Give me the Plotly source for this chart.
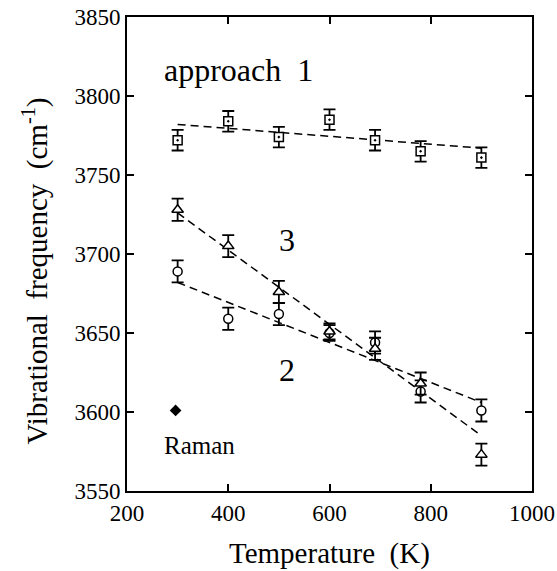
import plotly.graph_objects as go

# temperatures (K)
temps = [300, 400, 500, 600, 690, 780, 900]

# approach 1 (squares)
freq_1 = [3772, 3784, 3774, 3785, 3772, 3765, 3761]
err_1 = [6.5, 6.5, 6.5, 6.5, 6.5, 6.5, 6.5]

# approach 2 (circles)
freq_2 = [3689, 3659, 3662, 3650, 3644, 3613, 3601]
err_2 = [7, 7, 7, 5, 7, 7, 7]

# approach 3 (triangles)
freq_3 = [3728, 3705, 3676, 3651, 3640, 3618, 3573]
err_3 = [7, 7, 7, 5, 7, 7, 7]

# fitted dashed lines (end points)
fit_t = [300, 900]
fit_1 = [3782, 3767]
fit_2 = [3682, 3606]
fit_3 = [3726, 3585]

# Raman value
raman_t = [296]
raman_f = [3601]

x_ticks = [200, 400, 600, 800, 1000]
y_ticks = [3550, 3600, 3650, 3700, 3750, 3800, 3850]

FONT = "Liberation Serif, Times New Roman, serif"

fig = go.Figure()

for fy in (fit_1, fit_2, fit_3):
	fig.add_trace(go.Scatter(
		x=fit_t, y=fy,
		mode='lines',
		line=dict(color='black', width=1.5, dash='8px,5px'),
		showlegend=False))

def add_points(y, err, symbol, size):
	fig.add_trace(go.Scatter(
		x=temps, y=y,
		mode='markers',
		marker=dict(symbol=symbol, size=size, color='white',
			line=dict(color='black', width=1.5)),
		error_y=dict(type='data', array=err, visible=True,
			color='black', thickness=1.8, width=6),
		showlegend=False))

add_points(freq_1, err_1, 'square-dot', 9)
add_points(freq_2, err_2, 'circle', 9)
add_points(freq_3, err_3, 'triangle-up', 10)

fig.add_trace(go.Scatter(
	x=raman_t, y=raman_f,
	mode='markers',
	marker=dict(symbol='diamond', size=9, color='black'),
	showlegend=False))

axis_common = dict(
	showgrid=False, zeroline=False, automargin=False,
	showline=True, linecolor='black', linewidth=2,
	mirror='ticks', ticks='inside', ticklen=7, tickwidth=2, tickcolor='black',
	tickfont=dict(family=FONT, size=23, color='black'))

fig.update_xaxes(range=[200, 1000], tickvals=x_ticks, **axis_common)
fig.update_yaxes(range=[3550, 3850], tickvals=y_ticks, **axis_common)

texts = [
	dict(x=0.086, y=0.888, text='approach\u00a0\u00a01', size=32, xanchor='left'),
	dict(x=0.395, y=0.53, text='3', size=32, xanchor='center'),
	dict(x=0.395, y=0.255, text='2', size=32, xanchor='center'),
	dict(x=0.086, y=0.095, text='Raman', size=25, xanchor='left'),
]
for t in texts:
	fig.add_annotation(x=t['x'], y=t['y'], xref='paper', yref='paper',
		text=t['text'], showarrow=False, xanchor=t['xanchor'], yanchor='middle',
		font=dict(family=FONT, size=t['size'], color='black'))

fig.add_annotation(x=-0.225, y=0.465, xref='paper', yref='paper',
	text='Vibrational\u00a0\u00a0frequency\u00a0\u00a0(cm<sup>-1</sup>)',
	textangle=-90, showarrow=False, xanchor='center', yanchor='middle',
	font=dict(family=FONT, size=29, color='black'))
fig.add_annotation(x=0.5, y=-0.132, xref='paper', yref='paper',
	text='Temperature\u00a0\u00a0(K)', showarrow=False,
	xanchor='center', yanchor='middle',
	font=dict(family=FONT, size=29, color='black'))

fig.update_layout(
	width=557, height=571,
	margin=dict(l=127, r=25, t=17, b=80),
	plot_bgcolor='white', paper_bgcolor='white')

# drop the page's default 8px body margin so the figure fills the window
fig.write_html("out.html", config={'displayModeBar': False},
	post_script="document.body.style.margin='0';document.body.style.overflow='hidden';")
